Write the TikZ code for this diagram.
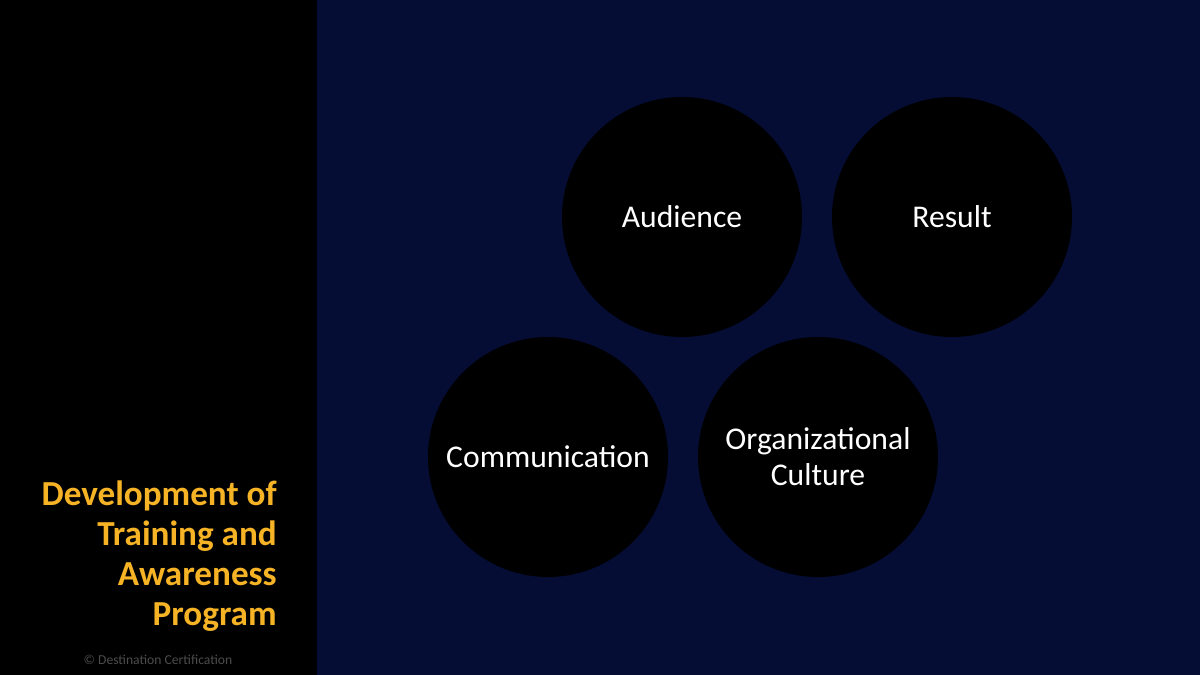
\documentclass[tikz,border=0pt]{standalone}
\usepackage{fontspec}
\setmainfont{Carlito}
\definecolor{navy}{HTML}{050D35}
\definecolor{gold}{HTML}{F5B325}
\begin{document}
\begin{tikzpicture}[x=0.025cm,y=-0.025cm,
  circ/.style={circle,fill=black,minimum size=240*0.025cm,inner sep=0pt,text=white,font=\fontsize{22.5}{25.5}\selectfont,align=center}]
\fill[navy] (0,0) rectangle (1200,675);
\fill[black] (0,0) rectangle (317,675);
\useasboundingbox (0,0) rectangle (1200,675);
\node[circ] (aud) at (682,217) {Audience};
\node[circ] (res) at (952,217) {Result};
\node[circ] (com) at (548,457) {Communication};
\node[circ] (org) at (818,457) {Organizational\\Culture};
\node[anchor=east,text=gold,align=right,font=\bfseries\fontsize{25}{28.4}\selectfont,inner sep=0pt] (title) at (277,556) {Development of\\Training and\\Awareness\\Program};
\node[text=gray!60!black,font=\fontsize{9.7}{11}\selectfont] (copy) at (158,660) {© Destination Certification};
\end{tikzpicture}
\end{document}
